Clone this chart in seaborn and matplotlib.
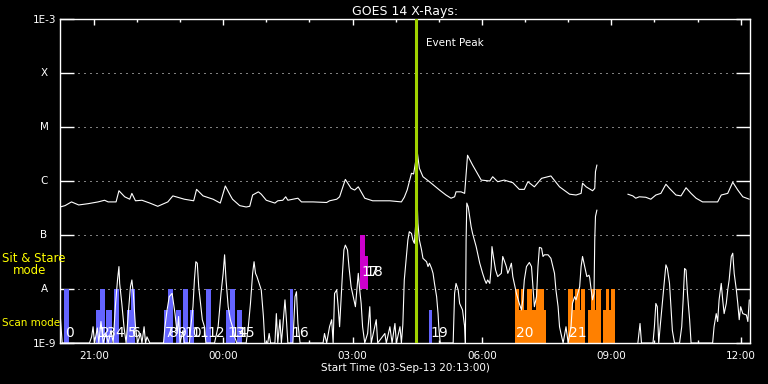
import matplotlib
matplotlib.use('Agg')
import matplotlib.pyplot as plt
import numpy as np
import pandas as pd
import seaborn as sns

# time axis: minutes after 03-Sep-13 20:13:00
# GOES long channel (1-8 A), two pieces (data gap ~08:40-09:23)
long_min_a = [0, 7, 16, 26, 39, 53, 62, 67, 78, 82, 90, 97, 100, 105, 114, 125, 136, 150, 157, 173,
              186, 190, 199, 213, 223, 230, 237, 240, 250, 259, 264, 268, 276, 280, 287, 299, 303, 310,
              314, 317, 331, 336, 352, 371, 375, 385, 389, 397, 405, 410, 415, 424, 435, 459, 475, 479,
              483, 489, 492, 497, 500, 505, 514, 528, 537, 544, 549, 551, 558, 563, 567, 574, 586, 598,
              602, 609, 618, 630, 639, 646, 651, 660, 670, 683, 695, 709, 718, 725, 727, 732, 741, 744,
              745, 747]
long_flux_a = [3.3e-7, 3.5e-7, 4.1e-7, 3.6e-7, 3.8e-7, 4.1e-7, 4.4e-7, 4.1e-7, 4.1e-7, 6.6e-7, 5.1e-7,
               4.6e-7, 5.9e-7, 4.3e-7, 4.4e-7, 3.9e-7, 3.4e-7, 4.1e-7, 5.3e-7, 4.6e-7, 4.3e-7, 7.0e-7,
               5.3e-7, 4.6e-7, 3.9e-7, 8.1e-7, 5.4e-7, 4.6e-7, 3.5e-7, 3.3e-7, 3.4e-7, 5.5e-7, 6.3e-7,
               5.7e-7, 4.4e-7, 3.9e-7, 4.3e-7, 4.4e-7, 5.1e-7, 4.4e-7, 4.8e-7, 4.1e-7, 4.1e-7, 4.0e-7,
               4.3e-7, 4.6e-7, 5.1e-7, 1.07e-6, 7.3e-7, 6.8e-7, 7.8e-7, 4.8e-7, 4.3e-7, 4.3e-7, 4.1e-7,
               5.0e-7, 6.8e-7, 1.39e-6, 1.35e-6, 3.5e-6, 1.72e-6, 1.2e-6, 9.7e-7, 6.8e-7, 5.5e-7, 4.8e-7,
               5.1e-7, 6.3e-7, 6.3e-7, 5.9e-7, 3.0e-6, 1.98e-6, 1.04e-6, 1.0e-6, 1.2e-6, 9.7e-7, 1.04e-6,
               9.3e-7, 7.0e-7, 7.0e-7, 9.7e-7, 7.8e-7, 1.12e-6, 1.24e-6, 7.8e-7, 5.7e-7, 5.5e-7, 5.9e-7,
               9.1e-7, 7.8e-7, 6.6e-7, 7.3e-7, 1.49e-6, 1.98e-6]
long_min_b = [790, 797, 801, 806, 815, 822, 829, 836, 843, 848, 857, 864, 871, 878, 885, 894, 915, 920,
              929, 936, 943, 950, 959]
long_flux_b = [5.7e-7, 5.3e-7, 4.8e-7, 5.1e-7, 5.0e-7, 4.6e-7, 5.5e-7, 5.9e-7, 8.7e-7, 7.3e-7, 5.5e-7,
               5.3e-7, 7.5e-7, 5.9e-7, 4.8e-7, 4.1e-7, 4.1e-7, 5.5e-7, 5.9e-7, 9.5e-7, 6.8e-7, 5.1e-7,
               4.6e-7]

# GOES short channel (0.5-4 A)
short_min_a = [0, 3, 41, 44, 46, 48, 52, 54, 57, 60, 64, 67, 71, 74, 77, 80, 82, 83, 86, 89, 92, 95, 98,
               100, 102, 105, 108, 112, 114, 117, 119, 121, 125, 144, 146, 149, 152, 156, 158, 160, 163,
               165, 167, 171, 173, 180, 182, 185, 187, 189, 191, 193, 196, 198, 201, 203, 215, 220, 224,
               227, 229, 231, 234, 237, 240, 243, 246, 259, 262, 265, 268, 270, 272, 274, 277, 280, 283,
               285, 289, 291, 293, 299, 301, 303, 306, 308, 310, 313, 315, 317, 324, 327, 329, 331, 334,
               366, 368, 371, 375, 378, 380, 382, 385, 387, 389, 393, 395, 397, 400, 402, 405, 409, 411,
               415, 417, 419, 421, 424, 428, 431, 433, 440, 442, 452, 454, 459, 462, 466, 468, 473, 475,
               477, 479, 482, 484, 486, 489, 491, 493, 497, 498, 500, 503, 505, 510, 512, 514, 517, 519,
               521, 524, 526, 527, 529, 547, 549, 551, 554, 556, 560, 563, 564, 565, 566, 568, 570, 572,
               574, 579, 584, 588, 591, 593, 595, 598, 600, 601, 603, 606, 609, 614, 616, 618, 621, 623,
               625, 628, 630, 635, 639, 642, 644, 646, 649, 653, 656, 658, 660, 663, 665, 667, 670, 672,
               674, 679, 683, 688, 690, 693, 695, 697, 700, 704, 707, 711, 713, 716, 718, 723, 725, 727,
               730, 733, 736, 737, 739, 741, 743, 744, 745, 747]
short_flux_a = [3.8e-9, 1e-9, 1e-9, 1.3e-9, 2.0e-9, 1e-9, 1.9e-9, 1e-9, 2.5e-9, 1e-9, 1.5e-9, 1e-9,
                1.7e-9, 1e-9, 4.7e-9, 1.47e-8, 2.6e-8, 1.27e-8, 5.4e-9, 2.0e-9, 1e-9, 3.5e-9, 1.1e-8,
                1.47e-8, 8.3e-9, 2.0e-9, 1e-9, 1.5e-9, 1e-9, 2.0e-9, 1e-9, 1.3e-9, 1e-9, 1e-9, 2.0e-9,
                4.1e-9, 7.2e-9, 8.3e-9, 5.4e-9, 3.5e-9, 1.5e-9, 3.1e-9, 1e-9, 1.7e-9, 1e-9, 1e-9, 2.0e-9,
                4.7e-9, 1.47e-8, 3.2e-8, 3.0e-8, 1.1e-8, 4.7e-9, 2.7e-9, 2.0e-9, 1e-9, 1e-9, 2.0e-9,
                8.3e-9, 1.95e-8, 4.3e-8, 1.47e-8, 4.7e-9, 2.7e-9, 2.0e-9, 1.3e-9, 1e-9, 1e-9, 2.0e-9,
                5.4e-9, 1.95e-8, 3.2e-8, 1.95e-8, 1.7e-8, 1.27e-8, 9.6e-9, 3.1e-9, 1e-9, 1e-9, 1.5e-9,
                1e-9, 1e-9, 3.5e-9, 1e-9, 2.7e-9, 1e-9, 2.0e-9, 6.3e-9, 2.7e-9, 1e-9, 1e-9, 7.2e-9,
                8.9e-9, 2.3e-9, 1e-9, 1e-9, 1.5e-9, 1e-9, 2.0e-9, 2.7e-9, 1e-9, 8.3e-9, 9.6e-9, 4.7e-9,
                2.0e-9, 1.95e-8, 5.3e-8, 6.5e-8, 5.3e-8, 2.6e-8, 1.1e-8, 6.3e-9, 4.7e-9, 1.95e-8, 9.6e-9,
                5.4e-9, 2.0e-9, 1e-9, 1.5e-9, 4.7e-9, 1e-9, 2.7e-9, 1e-9, 1.5e-9, 1e-9, 2.0e-9, 1e-9,
                2.3e-9, 1e-9, 2.0e-9, 1e-9, 2.2e-9, 1.47e-8, 4.0e-8, 8.1e-8, 1.15e-7, 1.07e-7, 8.1e-8,
                7.0e-8, 3.9e-7, 1.65e-7, 8.1e-8, 5.3e-8, 3.7e-8, 3.2e-8, 2.6e-8, 3.0e-8, 2.4e-8, 1.95e-8,
                1.27e-8, 7.2e-9, 3.5e-9, 2.0e-9, 1e-9, 1e-9, 8.3e-9, 1.27e-8, 9.6e-9, 5.4e-9, 4.1e-9,
                2.0e-9, 1e-9, 8.1e-8, 3.9e-7, 3.3e-7, 2.2e-7, 1.43e-7, 1.07e-7, 6.1e-8, 3.0e-8, 1.95e-8,
                1.47e-8, 1.27e-8, 1.47e-8, 1.27e-8, 2.6e-8, 6.1e-8, 4.0e-8, 2.25e-8, 1.7e-8, 1.95e-8,
                4.0e-8, 3.4e-8, 2.6e-8, 1.95e-8, 2.25e-8, 3.0e-8, 1.7e-8, 8.3e-9, 5.4e-9, 4.1e-9, 6.3e-9,
                1.47e-8, 2.6e-8, 3.1e-8, 2.6e-8, 1.1e-8, 4.7e-9, 7.2e-9, 2.6e-8, 5.9e-8, 5.7e-8, 4.0e-8,
                4.3e-8, 4.3e-8, 3.7e-8, 1.95e-8, 9.6e-9, 4.7e-9, 2.0e-9, 1.5e-9, 1e-9, 2.0e-9, 1e-9,
                2.0e-9, 5.4e-9, 7.2e-9, 6.3e-9, 1.1e-8, 2.6e-8, 4.0e-8, 2.6e-8, 1.7e-8, 1.8e-8, 1.6e-8,
                9.6e-9, 6.3e-9, 8.3e-9, 8.1e-8, 2.2e-7, 2.9e-7]
short_min_b = [804, 807, 809, 825, 827, 829, 831, 833, 835, 838, 841, 843, 845, 848, 850, 852, 855, 862,
               865, 867, 869, 871, 873, 876, 878, 908, 910, 913, 915, 917, 920, 922, 924, 927, 929, 931,
               934, 936, 938, 941, 943, 945, 947, 950, 955, 957, 959]
short_flux_b = [1e-9, 2.3e-9, 1e-9, 1e-9, 2.0e-9, 5.4e-9, 4.7e-9, 1e-9, 2.0e-9, 5.4e-9, 1.47e-8, 2.8e-8,
                2.4e-8, 1.27e-8, 4.7e-9, 1.7e-9, 1e-9, 1e-9, 2.0e-9, 6.3e-9, 2.4e-8, 2.25e-8, 8.3e-9,
                2.7e-9, 1e-9, 1e-9, 2.0e-9, 3.5e-9, 2.5e-9, 6.3e-9, 1.27e-8, 6.3e-9, 3.5e-9, 5.4e-9,
                9.6e-9, 1.47e-8, 4.0e-8, 4.6e-8, 1.95e-8, 9.6e-9, 5.4e-9, 2.7e-9, 4.7e-9, 3.5e-9, 3.3e-9,
                2.5e-9, 6.3e-9]

# IRIS observations
scan_start = [6, 50, 56, 64, 75, 93, 99, 145, 150, 161, 171, 181, 203, 231, 236, 246, 320, 514]
scan_end = [12, 56, 63, 72, 82, 99, 104, 150, 157, 168, 178, 186, 210, 236, 243, 253, 324, 518]
scan_top = [1e-8, 4e-9, 1e-8, 4e-9, 1e-8, 4e-9, 1e-8, 4e-9, 1e-8, 4e-9, 1e-8, 4e-9, 1e-8, 4e-9,
            1e-8, 4e-9, 1e-8, 4e-9]
stare_start = [418, 424]
stare_end = [424, 428]
stare_top = [1e-7, 4.1e-8]
orange_start = [633, 639, 642, 645, 650, 656, 662, 666, 667, 673,
                707, 714, 717, 723, 725, 734, 739, 744, 746, 755, 759, 764, 767]
orange_end = [639, 642, 645, 650, 656, 662, 666, 667, 673, 676,
              714, 717, 723, 725, 731, 739, 744, 746, 752, 759, 764, 767, 772]
orange_top = [1e-8, 4e-9, 1e-8, 4e-9, 1e-8, 4e-9, 1e-8, 4e-9, 1e-8, 4e-9,
              1e-8, 4e-9, 1e-8, 4e-9, 1e-8, 4e-9, 1e-8, 4e-9, 1e-8, 4e-9, 1e-8, 4e-9, 1e-8]
obs_min = [6, 50, 56, 64, 75, 93, 99, 145, 150, 161, 171, 181, 203, 231, 236, 246, 320, 418, 424, 514, 633, 707]
obs_mode = ['scan'] * 17 + ['stare', 'stare'] + ['scan'] * 3

event_peak = 495
tick_min = [47, 227, 407, 587, 767, 947]
tick_lab = ['21:00', '00:00', '03:00', '06:00', '09:00', '12:00']
level_val = [1e-9, 1e-8, 1e-7, 1e-6, 1e-5, 1e-4, 1e-3]
level_lab = ['1E-9', 'A', 'B', 'C', 'M', 'X', '1E-3']

sns.set_style('dark', {'axes.facecolor': 'black', 'figure.facecolor': 'black'})
plt.rcParams['font.family'] = ['DejaVu Sans']

fig = plt.figure(figsize=(7.68, 3.84), dpi=100)
fig.patch.set_facecolor('black')
ax = fig.add_axes([60/768, 41/384, 690/768, 324/384])
ax.set_facecolor('black')

# observation bars
ax.bar(scan_start, np.array(scan_top) - 1e-9, width=np.array(scan_end) - np.array(scan_start),
       bottom=1e-9, align='edge', color='#6464ff', linewidth=0, zorder=2)
ax.bar(stare_start, np.array(stare_top) - 1e-8, width=np.array(stare_end) - np.array(stare_start),
       bottom=1e-8, align='edge', color='#cc00cc', linewidth=0, zorder=2)
ax.bar(orange_start, np.array(orange_top) - 1e-9, width=np.array(orange_end) - np.array(orange_start),
       bottom=1e-9, align='edge', color='#ff8000', linewidth=0, zorder=2)

# x-ray curves
pieces = {'long_a': (long_min_a, long_flux_a), 'long_b': (long_min_b, long_flux_b),
          'short_a': (short_min_a, short_flux_a), 'short_b': (short_min_b, short_flux_b)}
df = pd.concat([pd.DataFrame({'minute': m, 'flux': f, 'seg': k}) for k, (m, f) in pieces.items()])
sns.lineplot(data=df, x='minute', y='flux', units='seg', estimator=None, color='white',
             lw=0.8, sort=False, ax=ax, zorder=4)

ax.set_yscale('log')
ax.set_ylim(1e-9, 1e-3)
ax.set_xlim(0, 960)
ax.yaxis.set_minor_locator(matplotlib.ticker.NullLocator())
ax.set_yticks(level_val)
ax.set_yticklabels([l if l.startswith('1E') else '' for l in level_lab])
for v, l in zip(level_val, level_lab):
    if not l.startswith('1E'):
        ax.text(-16/690, v, l, transform=ax.get_yaxis_transform(), color='white',
                fontsize=7.5, ha='center', va='center')
for v in level_val[1:-1]:
    ax.axhline(v, color='white', lw=0.72, linestyle=(0, (1, 5)), zorder=1)

ax.set_xticks(tick_min)
ax.set_xticklabels(tick_lab)
ax.set_xticks(np.arange(107, 960, 60), minor=True)
ax.tick_params(axis='x', which='major', direction='in', top=True, bottom=True, length=4.5,
               width=1, colors='white', labelsize=7.5, pad=6)
ax.tick_params(axis='x', which='minor', direction='in', top=True, bottom=True, length=2.5,
               width=1, colors='white')
ax.tick_params(axis='y', which='major', direction='in', left=True, right=True, length=10,
               width=1, colors='white', labelsize=7.5, pad=3)
for s in ax.spines.values():
    s.set_color('white')
    s.set_linewidth(1)
ax.grid(False)
ax.set_xlabel('Start Time (03-Sep-13 20:13:00)', color='white', fontsize=7.5, labelpad=1)
ax.set_ylabel('')
ax.set_title('GOES 14 X-Rays:', color='white', fontsize=9, pad=3)

ax.axvline(event_peak, color='#a0d200', lw=2.2, zorder=5)
ax.text(event_peak + 14, 3.6e-4, 'Event Peak', color='white', fontsize=7.5, va='center')

for i, (m, mode) in enumerate(zip(obs_min, obs_mode)):
    y = 2.07e-8 if mode == 'stare' else 1.5e-9
    ax.text(m + 1.5, y, str(i), color='white', fontsize=10, ha='left', va='center', zorder=6)

fig.text(2/768, 1 - 259/384, 'Sit & Stare', color='#ffff00', fontsize=8.5, va='center')
fig.text(13/768, 1 - 271/384, 'mode', color='#ffff00', fontsize=8.5, va='center')
fig.text(2/768, 1 - 323/384, 'Scan mode', color='#ffff00', fontsize=7.5, va='center')

fig.savefig('out.png', dpi=100, facecolor='black')
